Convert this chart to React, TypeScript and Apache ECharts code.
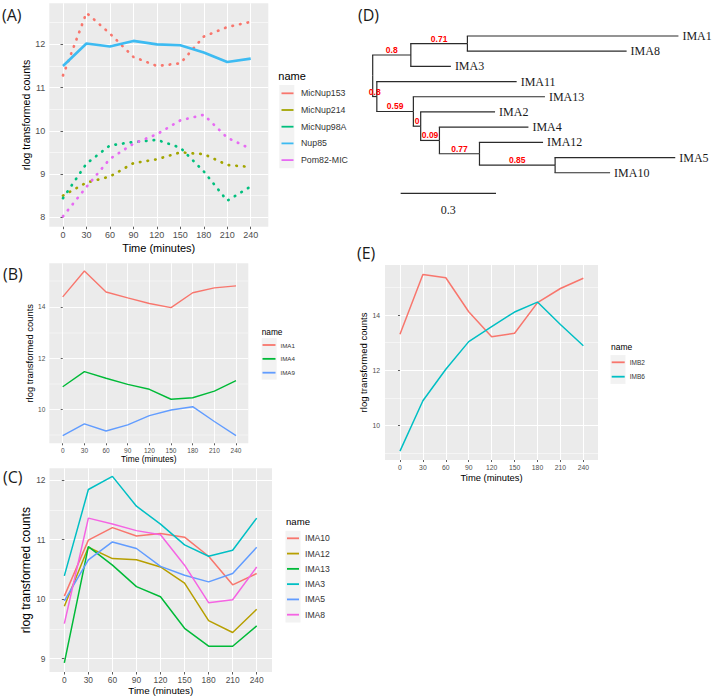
import React, { useEffect, useRef } from 'react';
import * as echarts from 'echarts';

const times = [0, 30, 60, 90, 120, 150, 180, 210, 240];

// Panel A
const aNames = ['MicNup153', 'MicNup214', 'MicNup98A', 'Nup85', 'Pom82-MIC'];
const aMicNup153 = [11.28, 12.73, 12.25, 11.71, 11.5, 11.56, 12.18, 12.4, 12.52];
const aMicNup214 = [8.5, 8.8, 8.94, 9.25, 9.34, 9.5, 9.46, 9.21, 9.16];
const aMicNup98A = [8.44, 9.24, 9.66, 9.74, 9.79, 9.61, 9.06, 8.38, 8.71];
const aNup85 = [11.5, 12.02, 11.95, 12.08, 12.0, 11.98, 11.81, 11.59, 11.67];
const aPom82MIC = [8.02, 8.7, 9.35, 9.7, 9.92, 10.24, 10.37, 9.84, 9.58];
const aColors = ['#F8766D', '#A3A500', '#00BF7D', '#3DBBF2', '#E76BF3'];
const aDotted = [true, true, true, false, true];
const aYTicks = [8, 9, 10, 11, 12];

// Panel B
const bNames = ['IMA1', 'IMA4', 'IMA9'];
const bIMA1 = [14.39, 15.4, 14.58, 14.35, 14.13, 13.97, 14.55, 14.74, 14.82];
const bIMA4 = [10.88, 11.47, 11.21, 10.97, 10.78, 10.39, 10.45, 10.71, 11.12];
const bIMA9 = [8.97, 9.43, 9.15, 9.39, 9.75, 9.97, 10.1, 9.52, 8.97];
const bColors = ['#F8766D', '#00BA38', '#619CFF'];
const bYTicks = [10, 12, 14];

// Panel C
const cNames = ['IMA10', 'IMA12', 'IMA13', 'IMA3', 'IMA5', 'IMA8'];
const cIMA10 = [10.05, 10.99, 11.2, 11.06, 11.1, 11.04, 10.72, 10.24, 10.43];
const cIMA12 = [9.88, 10.87, 10.68, 10.66, 10.54, 10.27, 9.64, 9.44, 9.83];
const cIMA13 = [8.93, 10.88, 10.57, 10.21, 10.04, 9.51, 9.21, 9.21, 9.55];
const cIMA3 = [10.39, 11.84, 12.06, 11.56, 11.26, 10.91, 10.72, 10.82, 11.36];
const cIMA5 = [9.97, 10.66, 10.96, 10.85, 10.55, 10.4, 10.29, 10.43, 10.87];
const cIMA8 = [9.59, 11.36, 11.26, 11.15, 11.08, 10.57, 9.94, 9.99, 10.54];
const cColors = ['#F8766D', '#B79F00', '#00BA38', '#00BFC4', '#619CFF', '#F564E3'];
const cYTicks = [9, 10, 11, 12];

// Panel E
const eNames = ['IMB2', 'IMB6'];
const eIMB2 = [13.31, 15.47, 15.35, 14.12, 13.22, 13.34, 14.45, 14.96, 15.33];
const eIMB6 = [9.08, 10.9, 12.04, 13.04, 13.58, 14.11, 14.47, 13.66, 12.89];
const eColors = ['#F8766D', '#00BFC4'];
const eYTicks = [10, 12, 14];

// Panel D (tree): tip order, edges [parent, child, branch length, support]
const treeTips = ['IMA1', 'IMA8', 'IMA3', 'IMA11', 'IMA13', 'IMA2', 'IMA4', 'IMA12', 'IMA5', 'IMA10'];
const treeEdges: [string, string, number, string][] = [
  ['root', 'nA', 0.12, '0.8'],
  ['nA', 'nB', 0.178, '0.71'],
  ['nB', 'IMA1', 0.664, ''],
  ['nB', 'IMA8', 0.501, ''],
  ['nA', 'IMA3', 0.126, ''],
  ['root', 'nC', 0.013, '0.8'],
  ['nC', 'IMA11', 0.44, ''],
  ['nC', 'nD', 0.115, '0.59'],
  ['nD', 'IMA13', 0.414, ''],
  ['nD', 'nE', 0.023, '0'],
  ['nE', 'IMA2', 0.234, ''],
  ['nE', 'nF', 0.059, '0.09'],
  ['nF', 'IMA4', 0.28, ''],
  ['nF', 'nG', 0.126, '0.77'],
  ['nG', 'IMA12', 0.2, ''],
  ['nG', 'nH', 0.238, '0.85'],
  ['nH', 'IMA5', 0.378, ''],
  ['nH', 'IMA10', 0.173, ''],
];
const scaleBar = [0.088, 10.36, 0.3]; // start x, row position, length
const scaleBarLabel = '0.3';

const SANS = '"Liberation Sans", Arial, sans-serif';
const SERIF = '"Liberation Serif", "Times New Roman", serif';

function layoutTree() {
  const kids: Record<string, string[]> = {};
  const len: Record<string, number> = {};
  treeEdges.forEach(([p, c, l]) => {
    (kids[p] = kids[p] || []).push(c);
    len[c] = l;
  });
  const pos: Record<string, { x: number; y: number }> = {};
  const visit = (n: string, x: number) => {
    const k = kids[n];
    if (!k) {
      pos[n] = { x, y: treeTips.indexOf(n) };
      return;
    }
    k.forEach((c) => visit(c, x + len[c]));
    const ys = k.map((c) => pos[c].y);
    pos[n] = { x, y: (Math.min(...ys) + Math.max(...ys)) / 2 };
  };
  visit('root', 0);
  return treeEdges.map(([p, c, l, s]) => ({
    child: c,
    support: s,
    tip: !kids[c],
    px: pos[p].x,
    py: pos[p].y,
    cx: pos[c].x,
    cy: pos[c].y,
  }));
}

type Panel = {
  box: number[];
  xRange: number[];
  yRange: number[];
  yStep: number;
  yTicks: number[];
  tickFont: number;
  tickLen: number;
  xLabelMargin: number;
  yLabelMargin: number;
  xNameGap: number;
  yNameGap: number;
  xNameFont: number;
  yNameFont: number;
  major: number;
  minor: number;
  names: string[];
  values: number[][];
  colors: string[];
  widths: number[];
  dotted?: boolean[];
  legend: { left: number; top: number; keyW: number; lh: number; gap: number; font: number; pad: number };
  title: { x: number; y: number; font: number };
  keyBox: number[];
};

function buildPanel(i: number, p: Panel) {
  const grid = {
    left: p.box[0], top: p.box[1], width: p.box[2], height: p.box[3],
    show: true, backgroundColor: '#EBEBEB', borderWidth: 0,
  };
  const tickStyle = { color: '#333333', width: 0.8 };
  const xAxis = {
    type: 'value', gridIndex: i, min: p.xRange[0], max: p.xRange[1],
    minInterval: 30, maxInterval: 30,
    axisLine: { show: false },
    axisTick: { show: true, length: p.tickLen, customValues: times, lineStyle: tickStyle },
    axisLabel: {
      customValues: times, fontSize: p.tickFont, color: '#4D4D4D', margin: p.xLabelMargin, fontFamily: SANS,
      formatter: (v: number) => (Math.abs(v % 30) < 1e-6 ? String(v) : ''),
    },
    splitLine: { show: true, lineStyle: { color: '#FFFFFF', width: p.major } },
    name: 'Time (minutes)', nameLocation: 'middle', nameGap: p.xNameGap,
    nameTextStyle: { fontSize: p.xNameFont, color: '#000000', fontFamily: SANS },
  };
  const yAxis = {
    type: 'value', gridIndex: i, min: p.yRange[0], max: p.yRange[1],
    minInterval: p.yStep, maxInterval: p.yStep,
    axisLine: { show: false },
    axisTick: { show: true, length: p.tickLen, customValues: p.yTicks, lineStyle: tickStyle },
    axisLabel: {
      customValues: p.yTicks, fontSize: p.tickFont, color: '#4D4D4D', margin: p.yLabelMargin, fontFamily: SANS,
      formatter: (v: number) => (Math.abs(v / p.yStep - Math.round(v / p.yStep)) < 1e-6 ? String(v) : ''),
    },
    splitLine: { show: true, lineStyle: { color: '#FFFFFF', width: p.major } },
    minorTick: { show: false, splitNumber: 2 },
    minorSplitLine: { show: true, lineStyle: { color: '#FFFFFF', width: p.minor } },
    name: 'rlog transformed counts', nameLocation: 'middle', nameGap: p.yNameGap,
    nameTextStyle: { fontSize: p.yNameFont, color: '#000000', fontFamily: SANS },
  };
  const series = p.names.map((name, k) => ({
    type: 'line', name, xAxisIndex: i, yAxisIndex: i,
    data: times.map((t, j) => [t, p.values[k][j]]),
    showSymbol: false, symbol: 'none', z: 3,
    itemStyle: { color: p.colors[k] },
    lineStyle: p.dotted && p.dotted[k]
      ? { color: p.colors[k], width: 2.7, type: [0.5, 7.2], cap: 'round' }
      : { color: p.colors[k], width: p.widths[k] },
  }));
  const legend = {
    orient: 'vertical', left: p.legend.left, top: p.legend.top, padding: 0,
    itemWidth: p.legend.keyW, itemHeight: 1.8, itemGap: p.legend.gap,
    icon: 'rect', selectedMode: false, data: p.names,
    itemStyle: { borderWidth: 0 },
    textStyle: {
      fontSize: p.legend.font, color: '#333333', lineHeight: p.legend.lh, fontFamily: SANS,
      padding: [0, 0, 0, p.legend.pad],
    },
  };
  const graphics = [
    {
      type: 'rect', z: 1,
      shape: { x: p.keyBox[0], y: p.keyBox[1], width: p.keyBox[2], height: p.keyBox[3] },
      style: { fill: '#F2F2F2' },
    },
    {
      type: 'text', x: p.title.x, y: p.title.y, z: 5,
      style: { text: 'name', fontSize: p.title.font, fontFamily: SANS, fill: '#000000', verticalAlign: 'middle' },
    },
  ];
  return { grid, xAxis, yAxis, series, legend, graphics };
}

function buildOption() {
  const panels: Panel[] = [
    {
      box: [49.3, 3.3, 219, 223.4], xRange: [-17.5, 262.5], yRange: [7.78, 12.95], yStep: 1, yTicks: aYTicks,
      tickFont: 9, tickLen: 2.5, xLabelMargin: 4, yLabelMargin: 4, xNameGap: 16, yNameGap: 17,
      xNameFont: 11, yNameFont: 10.5, major: 1.1, minor: 0.55,
      names: aNames, values: [aMicNup153, aMicNup214, aMicNup98A, aNup85, aPom82MIC], colors: aColors,
      widths: [1.5, 1.5, 1.5, 2.6, 1.5], dotted: aDotted,
      legend: { left: 281.5, top: 87.8, keyW: 12, lh: 11, gap: 5.7, font: 8.8, pad: 2.5 },
      title: { x: 278.3, y: 75.7, font: 11 }, keyBox: [279.3, 85, 15, 83.3],
    },
    {
      box: [49.3, 263.3, 199, 180], xRange: [-18.6, 257], yRange: [8.67, 15.7], yStep: 2, yTicks: bYTicks,
      tickFont: 6.5, tickLen: 2, xLabelMargin: 3.4, yLabelMargin: 4, xNameGap: 11.8, yNameGap: 13.6,
      xNameFont: 8.4, yNameFont: 9.4, major: 0.9, minor: 0.45,
      names: bNames, values: [bIMA1, bIMA4, bIMA9], colors: bColors, widths: [1.4, 1.4, 1.4],
      legend: { left: 262.5, top: 341, keyW: 13, lh: 8, gap: 5.85, font: 6.2, pad: 0 },
      title: { x: 261.7, y: 331.7, font: 8.3 }, keyBox: [261.7, 338.1, 15, 41.5],
    },
    {
      box: [49.5, 468.3, 222.5, 203.7], xRange: [-18.5, 259.1], yRange: [8.777, 12.196], yStep: 1, yTicks: cYTicks,
      tickFont: 8.4, tickLen: 2.5, xLabelMargin: 3.8, yLabelMargin: 4, xNameGap: 13.1, yNameGap: 13,
      xNameFont: 9.8, yNameFont: 12, major: 1, minor: 0.5,
      names: cNames, values: [cIMA10, cIMA12, cIMA13, cIMA3, cIMA5, cIMA8], colors: cColors,
      widths: [1.5, 1.5, 1.5, 1.5, 1.5, 1.5],
      legend: { left: 287, top: 533.3, keyW: 12, lh: 10, gap: 5.28, font: 8.6, pad: 1 },
      title: { x: 286, y: 521.7, font: 9.6 }, keyBox: [285.5, 530.7, 15, 91.7],
    },
    {
      box: [385, 265, 213, 195], xRange: [-19.6, 259.2], yRange: [8.76, 15.81], yStep: 2, yTicks: eYTicks,
      tickFont: 6.8, tickLen: 2, xLabelMargin: 3.9, yLabelMargin: 5, xNameGap: 12.6, yNameGap: 16.2,
      xNameFont: 9.4, yNameFont: 9.5, major: 1, minor: 0.5,
      names: eNames, values: [eIMB2, eIMB6], colors: eColors, widths: [1.5, 1.5],
      legend: { left: 611.7, top: 358.3, keyW: 13, lh: 8, gap: 6.4, font: 6.5, pad: 0 },
      title: { x: 611, y: 347, font: 8.5 }, keyBox: [610.5, 355.1, 15, 28.8],
    },
  ];
  const built = panels.map((p, i) => buildPanel(i, p));

  const edges = layoutTree();
  const treeGrid = { left: 372.7, top: 36, width: 317.8, height: 182.3, show: false };
  const treeX = { type: 'value', gridIndex: 4, min: 0, max: 1, show: false };
  const treeY = { type: 'value', gridIndex: 4, min: 0, max: 12, inverse: true, show: false };
  const treeSeries = {
    type: 'custom', name: 'tree', xAxisIndex: 4, yAxisIndex: 4, clip: false, z: 3,
    data: edges.map((e) => [e.px, e.py, e.cx, e.cy]),
    renderItem: (params: any, api: any) => {
      const e = edges[params.dataIndex];
      const p = api.coord([api.value(0), api.value(1)]);
      const c = api.coord([api.value(2), api.value(3)]);
      const stroke = { stroke: '#2B2B2B', lineWidth: 1.2 };
      const children: any[] = [
        { type: 'line', shape: { x1: p[0], y1: p[1], x2: p[0], y2: c[1] }, style: stroke },
        { type: 'line', shape: { x1: p[0] - 0.6, y1: c[1], x2: c[0], y2: c[1] }, style: stroke },
      ];
      if (e.tip) {
        children.push({
          type: 'text', x: c[0] + 4, y: c[1],
          style: { text: e.child, fontSize: 12, fontFamily: SERIF, fill: '#1A1A1A', align: 'left', verticalAlign: 'middle' },
        });
      }
      if (e.support) {
        children.push({
          type: 'text', x: (p[0] + c[0]) / 2, y: c[1] - 0.5, z2: 10,
          style: {
            text: e.support, fontSize: 8.5, fontWeight: 'bold', fontFamily: SANS, fill: '#FF0000',
            align: 'center', verticalAlign: 'bottom',
          },
        });
      }
      return { type: 'group', children };
    },
  };
  const scaleSeries = {
    type: 'custom', name: 'scale', xAxisIndex: 4, yAxisIndex: 4, clip: false, z: 3,
    data: [[scaleBar[0], scaleBar[1], scaleBar[0] + scaleBar[2]]],
    renderItem: (_params: any, api: any) => {
      const a = api.coord([api.value(0), api.value(1)]);
      const b = api.coord([api.value(2), api.value(1)]);
      return {
        type: 'group',
        children: [
          { type: 'line', shape: { x1: a[0], y1: a[1], x2: b[0], y2: b[1] }, style: { stroke: '#2B2B2B', lineWidth: 1.3 } },
          {
            type: 'text', x: (a[0] + b[0]) / 2, y: a[1] + 17,
            style: { text: scaleBarLabel, fontSize: 12, fontFamily: SERIF, fill: '#1A1A1A', align: 'center', verticalAlign: 'middle' },
          },
        ],
      };
    },
  };

  const panelLabel = (t: string, x: number, y: number) => ({
    type: 'text', x, y, z: 5,
    style: { text: t, fontSize: 16, fontFamily: '"Open Sans", sans-serif', fill: '#1A1A1A', verticalAlign: 'middle' },
  });

  return {
    animation: false,
    backgroundColor: '#FFFFFF',
    grid: [...built.map((b) => b.grid), treeGrid],
    xAxis: [...built.map((b) => b.xAxis), treeX],
    yAxis: [...built.map((b) => b.yAxis), treeY],
    legend: built.map((b) => b.legend),
    series: [...built.flatMap((b) => b.series), treeSeries, scaleSeries],
    graphic: [
      ...built.flatMap((b) => b.graphics),
      panelLabel('(A)', 2, 15),
      panelLabel('(B)', 3, 274),
      panelLabel('(C)', 3, 477),
      panelLabel('(D)', 358, 15),
      panelLabel('(E)', 357, 253),
    ],
  };
}

export default function App() {
  const ref = useRef<HTMLDivElement>(null);
  useEffect(() => {
    if (!ref.current) return;
    const chart = echarts.init(ref.current, undefined, { renderer: 'svg' });
    chart.setOption(buildOption() as any);
    return () => chart.dispose();
  }, []);
  return <div ref={ref} style={{ position: 'absolute', left: 0, top: 0, width: 712, height: 697 }} />;
}
